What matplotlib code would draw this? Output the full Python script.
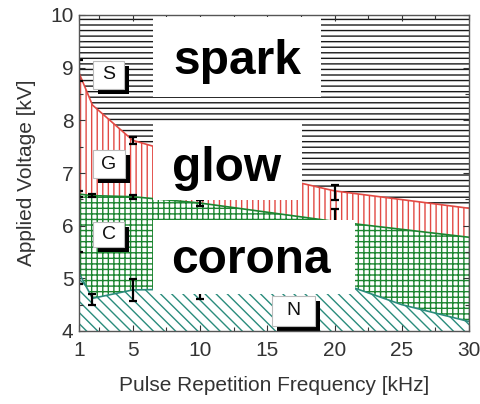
import matplotlib
matplotlib.use("Agg")
import matplotlib.pyplot as plt
from matplotlib.patches import Rectangle
from matplotlib.ticker import MultipleLocator, FixedLocator
import numpy as np

plt.rcParams['font.family'] = ['Liberation Sans', 'DejaVu Sans']
plt.rcParams['hatch.linewidth'] = 1.0

# Discharge-regime boundaries (applied voltage, kV) vs pulse frequency (kHz)
freq = [1, 2, 5, 10, 20, 30]
spark_onset = [8.9, 8.29, 7.62, 7.25, 6.66, 6.33]
glow_onset = [6.6, 6.57, 6.55, 6.43, 6.08, 5.78]

freq_corona = [1, 2, 5, 10, 20, 25, 30]
corona_onset = [5.1, 4.62, 4.78, 4.8, 4.95, 4.5, 4.18]

# Measured points with error bars
err_x = [1, 5, 20, 1, 2, 5, 10, 20, 1, 2, 5, 10]
err_y = [8.95, 7.62, 6.63, 6.6, 6.57, 6.55, 6.43, 6.1, 5.2, 4.6, 4.78, 4.8]
err_e = [0.2, 0.07, 0.14, 0.05, 0.03, 0.04, 0.05, 0.22, 0.3, 0.1, 0.21, 0.2]

xticks = [1, 5, 10, 15, 20, 25, 30]
yticks = [4, 5, 6, 7, 8, 9, 10]

fig = plt.figure(figsize=(4.8, 4.04), dpi=100)
ax = fig.add_axes([79 / 480, 73 / 404, 390 / 480, 316 / 404])
ax.set_xlim(1, 30)
ax.set_ylim(4, 10)

black = '#1a1a1a'
red = '#e24a44'
green = '#1c8530'
teal = '#2a8c7c'

# spark region
ax.fill_between(freq, spark_onset, 10, facecolor='white', edgecolor=black,
                hatch='---', linewidth=0, zorder=1)
# glow region
ax.fill_between(freq, glow_onset, spark_onset, facecolor='white', edgecolor=red,
                hatch='|||', linewidth=0, zorder=1)
# corona region
glow_on_c = np.interp(freq_corona, freq, glow_onset)
ax.fill_between(freq_corona, corona_onset, glow_on_c, facecolor='white', edgecolor=green,
                hatch='+++', linewidth=0, zorder=1)
# no-discharge region
ax.fill_between(freq_corona, 4, corona_onset, facecolor='white', edgecolor=teal,
                hatch='\\\\\\', linewidth=0, zorder=1)

ax.plot(freq, spark_onset, color=red, lw=1.2, zorder=2)
ax.plot(freq, glow_onset, color=green, lw=1.2, zorder=2)
ax.plot(freq_corona, corona_onset, color=teal, lw=1.2, zorder=2)

ax.errorbar(err_x, err_y, yerr=err_e, fmt='none', ecolor='black', elinewidth=1.6,
            capsize=3, capthick=1.6, zorder=3)

# large regime labels
big = [("spark", 6.5, 19.0, 8.44, 9.97, 12.75, 9.11),
       ("glow", 6.5, 17.58, 6.49, 7.95, 12.0, 7.08),
       ("corona", 6.5, 21.5, 4.70, 6.11, 13.8, 5.33)]
for txt, x0, x1, y0, y1, tx, ty in big:
    ax.add_patch(Rectangle((x0, y0), x1 - x0, y1 - y0, facecolor='white',
                           edgecolor='none', zorder=5))
    ax.text(tx, ty, txt, fontsize=34.5, fontweight='bold', ha='center', va='center',
            color='black', zorder=6)

# small boxed letters with drop shadow
dx, dy = 5 / 13.45, 5 / 52.67
small = [("S", 2.04, 4.35, 8.6, 9.13),
         ("G", 2.04, 4.42, 6.9, 7.44),
         ("C", 2.04, 4.35, 5.6, 6.07),
         ("N", 15.35, 18.55, 4.1, 4.66)]
for txt, x0, x1, y0, y1 in small:
    ax.add_patch(Rectangle((x0 + dx, y0 - dy), x1 - x0, y1 - y0, facecolor='black',
                           edgecolor='none', zorder=7))
    ax.add_patch(Rectangle((x0, y0), x1 - x0, y1 - y0, facecolor='white',
                           edgecolor='#bbbbbb', lw=0.8, zorder=8))
    ax.text((x0 + x1) / 2, (y0 + y1) / 2, txt, fontsize=14, ha='center', va='center',
            color='#111111', zorder=9)

ax.xaxis.set_major_locator(FixedLocator(xticks))
ax.xaxis.set_minor_locator(FixedLocator([2.5, 7.5, 12.5, 17.5, 22.5, 27.5]))
ax.yaxis.set_major_locator(FixedLocator(yticks))
ax.yaxis.set_minor_locator(MultipleLocator(0.5))
ax.tick_params(which='both', direction='in', top=True, right=True, colors='#333333',
               labelsize=15)
ax.tick_params(axis='x', pad=7)
ax.tick_params(axis='y', pad=4)
ax.tick_params(which='major', length=4, width=0.8)
ax.tick_params(which='minor', length=3, width=0.8)
for s in ax.spines.values():
    s.set_color('#555555')
    s.set_linewidth(1.0)
    s.set_zorder(10)

ax.set_xlabel("Pulse Repetition Frequency [kHz]", fontsize=15, color='#333333', labelpad=12)
ax.set_ylabel("Applied Voltage [kV]", fontsize=15, color='#333333', labelpad=10)

fig.savefig("out.png", dpi=100)
